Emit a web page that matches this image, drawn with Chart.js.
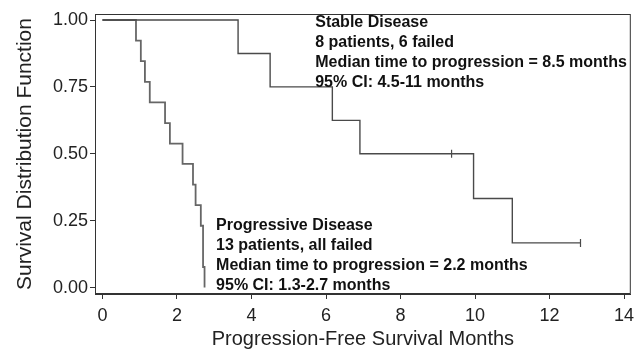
<!DOCTYPE html>
<html>
<head>
<meta charset="utf-8">
<script src="https://cdn.jsdelivr.net/npm/chart.js@4.4.1/dist/chart.umd.min.js"></script>
<style>
  html, body { margin: 0; padding: 0; background: #fff; }
  #wrap { width: 636px; height: 350px; }
</style>
</head>
<body>
<div id="wrap"><canvas id="km"></canvas></div>
<script>
// Kaplan-Meier estimates (months, survival)
var stableTimes = [0, 3.64, 4.5, 6.17, 6.91, 9.96, 11.0, 12.83];
var stableSurv = [1, 0.875, 0.75, 0.625, 0.5, 0.333, 0.167, 0.167];
var stableCensorTimes = [9.37, 12.83];
var stableCensorSurv = [0.5, 0.167];

var progTimes = [0, 0.9, 1.03, 1.14, 1.27, 1.68, 1.81, 2.15, 2.43, 2.5, 2.64, 2.7, 2.74];
var progSurv = [1, 0.923, 0.846, 0.769, 0.692, 0.615, 0.538, 0.462, 0.385, 0.308, 0.231, 0.077, 0];

var xTicks = [0, 2, 4, 6, 8, 10, 12, 14];
var yTicks = [0, 0.25, 0.5, 0.75, 1];

var stableNote = ["Stable Disease", "8 patients, 6 failed",
    "Median time to progression = 8.5 months", "95% CI: 4.5-11 months"];
var progNote = ["Progressive Disease", "13 patients, all failed",
    "Median time to progression = 2.2 months", "95% CI: 1.3-2.7 months"];

function pairs(xs, ys) {
    return xs.map(function (x, i) { return { x: x, y: ys[i] }; });
}

var FONT = "'Liberation Sans', Arial, Helvetica, sans-serif";
var INK = "#222";

// frame round the plot + the two text blocks
var framePlugin = {
    id: "frame",
    afterDraw: function (chart) {
        var ctx = chart.ctx, a = chart.chartArea;
        var xs = chart.scales.x, ys = chart.scales.y;
        ctx.save();
        ctx.strokeStyle = "#333";
        ctx.lineWidth = 1;
        ctx.strokeRect(a.left + 0.5, a.top + 0.5, a.right - a.left - 1, a.bottom - a.top - 1);

        ctx.fillStyle = "#111";
        ctx.font = "bold 16px " + FONT;
        ctx.textBaseline = "middle";
        ctx.textAlign = "left";
        function block(lines, xv, yv) {
            var px = xs.getPixelForValue(xv), py = ys.getPixelForValue(yv);
            lines.forEach(function (t, i) { ctx.fillText(t, px, py + i * 20); });
        }
        block(stableNote, 5.71, 0.99);
        block(progNote, 3.05, 0.232);
        ctx.restore();
    }
};

new Chart("km", {
    type: "line",
    data: {
        datasets: [
            {
                label: "Stable Disease",
                data: pairs(stableTimes, stableSurv),
                stepped: "before",
                borderColor: "#4a4a4a",
                borderWidth: 1.4,
                pointRadius: 0,
                fill: false
            },
            {
                label: "Stable censored",
                type: "scatter",
                data: pairs(stableCensorTimes, stableCensorSurv),
                pointStyle: "line",
                rotation: 90,
                pointRadius: 4,
                borderColor: "#4a4a4a",
                borderWidth: 1.2,
                showLine: false
            },
            {
                label: "Progressive Disease",
                data: pairs(progTimes, progSurv),
                stepped: "before",
                borderColor: "#666",
                borderWidth: 1.8,
                pointRadius: 0,
                fill: false
            }
        ]
    },
    options: {
        responsive: true,
        maintainAspectRatio: false,
        animation: false,
        events: [],
        layout: { padding: { left: 0, top: 14, right: 5, bottom: 0 } },
        plugins: {
            legend: { display: false },
            tooltip: { enabled: false }
        },
        scales: {
            x: {
                type: "linear",
                min: -0.2,
                max: 14.18,
                afterBuildTicks: function (s) { s.ticks = xTicks.map(function (v) { return { value: v }; }); },
                afterFit: function (s) { s.height = 56; s.paddingLeft = 0; s.paddingRight = 0; },
                grid: { drawOnChartArea: false, drawTicks: true, tickLength: 5, color: "#333" },
                border: { display: true, color: "#333" },
                ticks: { color: INK, font: { family: FONT, size: 18 }, padding: 6, maxRotation: 0 },
                title: {
                    display: true,
                    text: "Progression-Free Survival Months",
                    color: INK,
                    font: { family: FONT, size: 20, lineHeight: 1.1 },
                    padding: { top: 0, bottom: 0 }
                }
            },
            y: {
                type: "linear",
                min: -0.024,
                max: 1.0225,
                afterBuildTicks: function (s) { s.ticks = yTicks.map(function (v) { return { value: v }; }); },
                afterFit: function (s) { s.width = 95; s.paddingTop = 0; s.paddingBottom = 0; },
                grid: { drawOnChartArea: false, drawTicks: true, tickLength: 5, color: "#333" },
                border: { display: true, color: "#333" },
                ticks: {
                    color: INK,
                    font: { family: FONT, size: 18 },
                    padding: 2,
                    callback: function (v) { return v.toFixed(2); }
                },
                title: {
                    display: true,
                    text: "Survival Distribution Function",
                    color: INK,
                    font: { family: FONT, size: 21, lineHeight: 1.1 },
                    padding: { top: 14, bottom: 0 }
                }
            }
        }
    },
    plugins: [framePlugin]
});
</script>
</body>
</html>
